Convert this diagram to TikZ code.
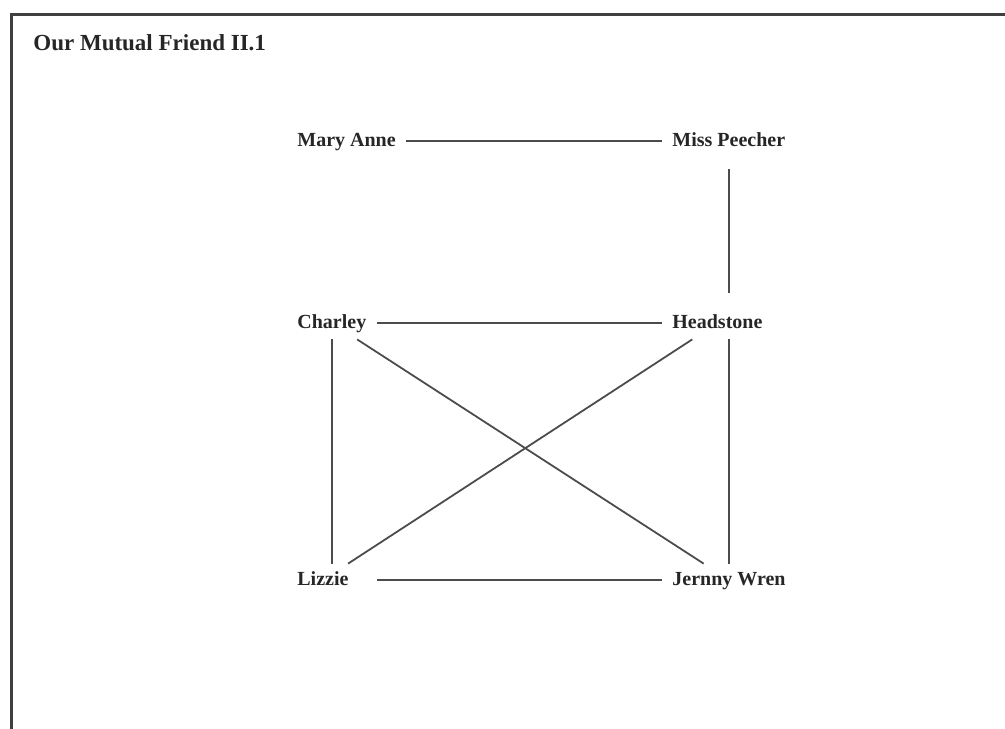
\documentclass[tikz,border=0pt]{standalone}
\usepackage{fontspec}
\setmainfont{Liberation Serif}
\begin{document}
\begin{tikzpicture}[x=0.5pt,y=-0.5pt]
        \tikzstyle{person}=[anchor=west,inner xsep=5pt,inner ysep=3.5pt,text height=7pt,text depth=2pt,font=\bfseries,text=black!85]
        \tikzstyle{link}=[draw,line width=0.9pt,black!70]
        \useasboundingbox (0,0) rectangle (1005,728);
        \draw[line width=1.5pt,black!75] (11,740) -- (11,14) -- (1020,14);
        \node [anchor=base west,inner sep=0pt,font=\bfseries\fontsize{11.5}{14}\selectfont,text=black!85] (title) at (33,50) {Our Mutual Friend II.1};
       \begin{scope}
         \node [person] (ma) at (287,141) {Mary Anne};
         \node [person] (mp) at (662,141) {Miss Peecher};
         \node [person] (ch) at (287,323) {Charley};
         \node [person] (hs) at (662,323) {Headstone};
         \node [person] (lz) at (287,580) {Lizzie};
         \node [person] (jw) at (662,580) {Jernny Wren};
         \path[link] (ma) edge (mp);
         \path[link] ([yshift=-6pt]mp.south -| jw) edge ([yshift=7pt]hs.north -| jw);
         \path[link] (ch) edge (hs);
         \path[link] (ch.south) edge (lz.north -| ch);
         \path[link] (hs.south -| jw) edge (jw.north);
         \path[link] (ch) edge (jw);
         \path[link] (hs) edge (lz);
         \path[link] (lz -| ch.east) edge (jw);
        \end{scope}
      \end{tikzpicture}
\end{document}
